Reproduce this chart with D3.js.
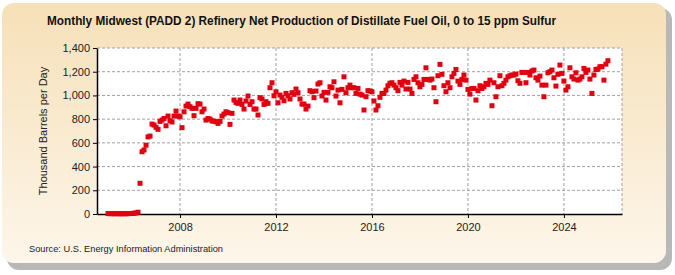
<!DOCTYPE html>
<html lang="en">
	<head>
		<meta charset="utf-8">
		<title>Midwest ULSD production</title>
		<script src="https://d3js.org/d3.v7.min.js"></script>
		<style type="text/css">
			body { margin: 0; background: #fff; }
			text { font-family: "Liberation Sans Narrow", "Arial Narrow", "Liberation Sans", Arial, sans-serif; }
			.grid line { stroke: #a0a0a0; stroke-dasharray: 3,2; }
		</style>
	</head>
	<body>
		<script type="text/javascript">
			//Chart values, thousand barrels per day, monthly from Jan 2005
			let title = "Monthly Midwest (PADD 2) Refinery Net Production of Distillate Fuel Oil, 0 to 15 ppm Sulfur";
			let yLabel = "Thousand Barrels per Day";
			let source = "Source: U.S. Energy Information Administration";
			let startYear = 2005;
			let yearTicks = [2008, 2012, 2016, 2020, 2024];
			let valueTicks = [0, 200, 400, 600, 800, 1000, 1200, 1400];

			let v2005 = [4, 3, 3, 2, 3, 3, 2, 2, 3, 2, 3, 4];
			let v2006 = [5, 6, 9, 15, 259, 525, 540, 580, 650, 657, 758, 750];
			let v2007 = [731, 714, 781, 792, 806, 744, 826, 787, 776, 826, 868, 826];
			let v2008 = [820, 728, 862, 910, 927, 905, 891, 829, 891, 930, 927, 862];
			let v2009 = [885, 792, 806, 800, 784, 784, 778, 764, 781, 826, 843, 862];
			let v2010 = [854, 756, 849, 961, 941, 933, 961, 924, 885, 953, 995, 924];
			let v2011 = [947, 885, 885, 835, 981, 970, 924, 947, 933, 1065, 1107, 997];
			let v2012 = [1031, 938, 1003, 984, 955, 1017, 997, 970, 1023, 1009, 1054, 1023];
			let v2013 = [970, 927, 927, 885, 910, 1040, 1031, 981, 1037, 1096, 1107, 995];
			let v2014 = [1026, 961, 1026, 1073, 1065, 1115, 995, 1045, 938, 1051, 1157, 1023];
			let v2015 = [1065, 1087, 1065, 1065, 1017, 1059, 1011, 1003, 877, 989, 1040, 1037];
			let v2016 = [1031, 953, 877, 913, 984, 1017, 1017, 1045, 1082, 1102, 1107, 1087];
			let v2017 = [1065, 1040, 1110, 1087, 1121, 1054, 1110, 1054, 1017, 1135, 1157, 1107];
			let v2018 = [1073, 1093, 1135, 1233, 1135, 1129, 1138, 1065, 947, 1166, 1262, 1178];
			let v2019 = [1082, 1031, 1107, 1065, 1157, 1186, 1219, 1121, 1093, 1135, 1172, 1129];
			let v2020 = [1051, 1011, 1059, 1059, 961, 1040, 1082, 1059, 1073, 1102, 1093, 1129];
			let v2021 = [913, 1107, 989, 1073, 1166, 1082, 1102, 1129, 1157, 1166, 1172, 1172];
			let v2022 = [1180, 1124, 1102, 1194, 1194, 1107, 1194, 1172, 1206, 1214, 1149, 1129];
			let v2023 = [1163, 1087, 989, 1087, 1191, 1200, 1214, 1149, 1079, 1178, 1256, 1186];
			let v2024 = [1121, 1045, 1073, 1233, 1157, 1138, 1191, 1129, 1138, 1157, 1228, 1194];
			let v2025 = [1214, 1138, 1017, 1172, 1219, 1222, 1242, 1242, 1129, 1264, 1293];

			let values = [].concat(v2005, v2006, v2007, v2008, v2009, v2010, v2011, v2012, v2013,
				v2014, v2015, v2016, v2017, v2018, v2019, v2020, v2021, v2022, v2023, v2024, v2025);
			let dataset = values.map(function(d, i) { return [startYear + i / 12, d]; });

			//Width and height
			let w = 675;
			let h = 275;
			let plot = { left: 97, right: 622, top: 48, bottom: 214 };

			let svg = d3.select("body")
						.append("svg")
						.attr("width", w)
						.attr("height", h);

			//Panel gradient
			let grad = svg.append("defs").append("linearGradient")
				.attr("id", "panel")
				.attr("x1", 0).attr("y1", 0).attr("x2", 0).attr("y2", 1);
			grad.append("stop").attr("offset", "0%").attr("stop-color", "#f6e0b8");
			grad.append("stop").attr("offset", "100%").attr("stop-color", "#fdf6ea");

			//Shadow and panel
			svg.append("rect")
				.attr("x", 7).attr("y", 8)
				.attr("width", 665).attr("height", 262)
				.attr("rx", 12)
				.attr("fill", "#b8b8b8");
			svg.append("rect")
				.attr("x", 2).attr("y", 3)
				.attr("width", 664).attr("height", 260)
				.attr("rx", 12)
				.attr("fill", "url(#panel)");

			//Scales
			let xScale = d3.scaleLinear()
				.domain([2004.54, 2026.42])
				.range([plot.left, plot.right]);
			let yScale = d3.scaleLinear()
				.domain([0, 1400])
				.range([plot.bottom, plot.top]);

			//Plot area
			svg.append("rect")
				.attr("x", plot.left).attr("y", plot.top)
				.attr("width", plot.right - plot.left)
				.attr("height", plot.bottom - plot.top)
				.attr("fill", "#fff");

			//Gridlines
			let grid = svg.append("g").attr("class", "grid");
			grid.selectAll(".hg")
				.data(valueTicks.filter(function(d) { return d > 0; }))
				.enter()
				.append("line")
				.attr("x1", plot.left).attr("x2", plot.right)
				.attr("y1", function(d) { return yScale(d); })
				.attr("y2", function(d) { return yScale(d); });
			grid.selectAll(".vg")
				.data(yearTicks)
				.enter()
				.append("line")
				.attr("x1", function(d) { return xScale(d); })
				.attr("x2", function(d) { return xScale(d); })
				.attr("y1", plot.top).attr("y2", plot.bottom);
			grid.append("line")
				.attr("x1", plot.right).attr("x2", plot.right)
				.attr("y1", plot.top).attr("y2", plot.bottom);

			//Axes
			let xAxis = d3.axisBottom(xScale)
				.tickValues(yearTicks)
				.tickFormat(d3.format("d"))
				.tickSize(4)
				.tickSizeOuter(0);
			let yAxis = d3.axisLeft(yScale)
				.tickValues(valueTicks)
				.tickFormat(d3.format(","))
				.tickSize(4)
				.tickSizeOuter(0);

			let gx = svg.append("g")
				.attr("transform", "translate(0," + plot.bottom + ")")
				.call(xAxis);
			let gy = svg.append("g")
				.attr("transform", "translate(" + plot.left + ",0)")
				.call(yAxis);
			[gx, gy].forEach(function(g) {
				g.select(".domain").attr("stroke", "#000").attr("stroke-width", 1.5);
				g.selectAll(".tick line").attr("stroke", "#000");
				g.selectAll(".tick text")
					.attr("fill", "#222")
					.style("font-size", "11px")
					.style("font-family", null);
			});
			gx.selectAll(".tick text").attr("dy", "0.9em");

			//Points
			svg.append("g")
				.selectAll("rect")
				.data(dataset)
				.enter()
				.append("rect")
				.attr("x", function(d) { return xScale(d[0]) - 2.5; })
				.attr("y", function(d) { return yScale(d[1]) - 2.5; })
				.attr("width", 5)
				.attr("height", 5)
				.attr("fill", "#e00010");

			//Texts
			svg.append("text")
				.attr("x", 47)
				.attr("y", 25)
				.attr("textLength", 509)
				.attr("lengthAdjust", "spacingAndGlyphs")
				.attr("font-size", "13px")
				.attr("font-weight", "bold")
				.attr("fill", "#111")
				.text(title);

			svg.append("text")
				.attr("transform", "translate(47," + ((plot.top + plot.bottom) / 2) + ") rotate(-90)")
				.attr("text-anchor", "middle")
				.attr("font-size", "11px")
				.attr("fill", "#222")
				.text(yLabel);

			svg.append("text")
				.attr("x", 29)
				.attr("y", 252)
				.attr("textLength", 194)
				.attr("lengthAdjust", "spacingAndGlyphs")
				.attr("font-size", "9.5px")
				.attr("fill", "#222")
				.text(source);
		</script>
	</body>
</html>
